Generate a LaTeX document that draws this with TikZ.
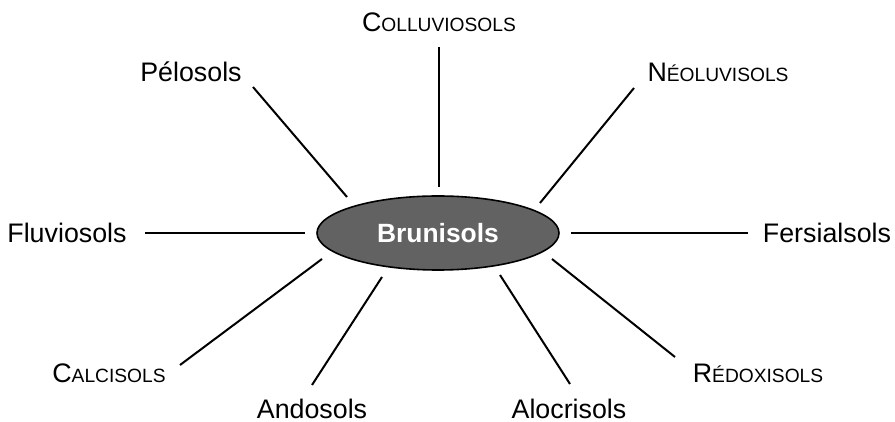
\documentclass[tikz,border=0pt]{standalone}
\usepackage{fontspec}
\setmainfont{Liberation Sans}
\usepackage{tikz}
\usetikzlibrary{shapes.geometric}
\definecolor{brunfill}{RGB}{98,98,98}
\newcommand\petitcap[2]{#1{\fontsize{9.6}{11}\selectfont #2}}

\begin{document}
\begin{tikzpicture}[x=0.5pt, y=-0.5pt,
  soil/.style={font=\fontsize{13.4}{15}\selectfont, inner sep=0pt, anchor=base},
  centre/.style={draw, thick, ellipse, fill=brunfill, text=white,
                 minimum width=121pt, minimum height=37pt, inner sep=0pt,
                 font=\fontsize{13.2}{15}\selectfont\bfseries},
  link/.style={line width=1pt},
]
\useasboundingbox (0,0) rectangle (895,422);

% Centre
\node[centre] (bru) at (438,233) {};
\node[soil, text=white, font=\fontsize{13.2}{15}\selectfont\bfseries] (brulbl) at (438,243) {Brunisols};

% Labels
\node[soil] (col) at (439,32) {\petitcap{C}{OLLUVIOSOLS}};
\node[soil] (pel) at (191,82) {Pélosols};
\node[soil] (neo) at (718,82) {\petitcap{N}{ÉOLUVISOLS}};
\node[soil] (flu) at (67,243) {Fluviosols};
\node[soil] (fer) at (827,243) {Fersialsols};
\node[soil] (cal) at (109,383) {\petitcap{C}{ALCISOLS}};
\node[soil] (red) at (758,383) {\petitcap{R}{ÉDOXISOLS}};
\node[soil] (and) at (312,419) {Andosols};
\node[soil] (alo) at (569,419) {Alocrisols};

% Line ends
\coordinate (col-a) at (439,47);  \coordinate (col-b) at (439,187);
\coordinate (pel-a) at (253,87);  \coordinate (pel-b) at (347,197);
\coordinate (neo-a) at (634,88);  \coordinate (neo-b) at (540,203);
\coordinate (flu-a) at (145,233); \coordinate (flu-b) at (305,233);
\coordinate (fer-a) at (748,233); \coordinate (fer-b) at (571,233);
\coordinate (cal-a) at (180,365); \coordinate (cal-b) at (322,259);
\coordinate (red-a) at (675,357); \coordinate (red-b) at (552,259);
\coordinate (and-a) at (312,385); \coordinate (and-b) at (382,277);
\coordinate (alo-a) at (570,384); \coordinate (alo-b) at (500,275);

% Links
\foreach \s in {col,pel,neo,flu,fer,cal,red,and,alo}
  \draw[link] (\s-a) -- (\s-b);
\end{tikzpicture}
\end{document}
